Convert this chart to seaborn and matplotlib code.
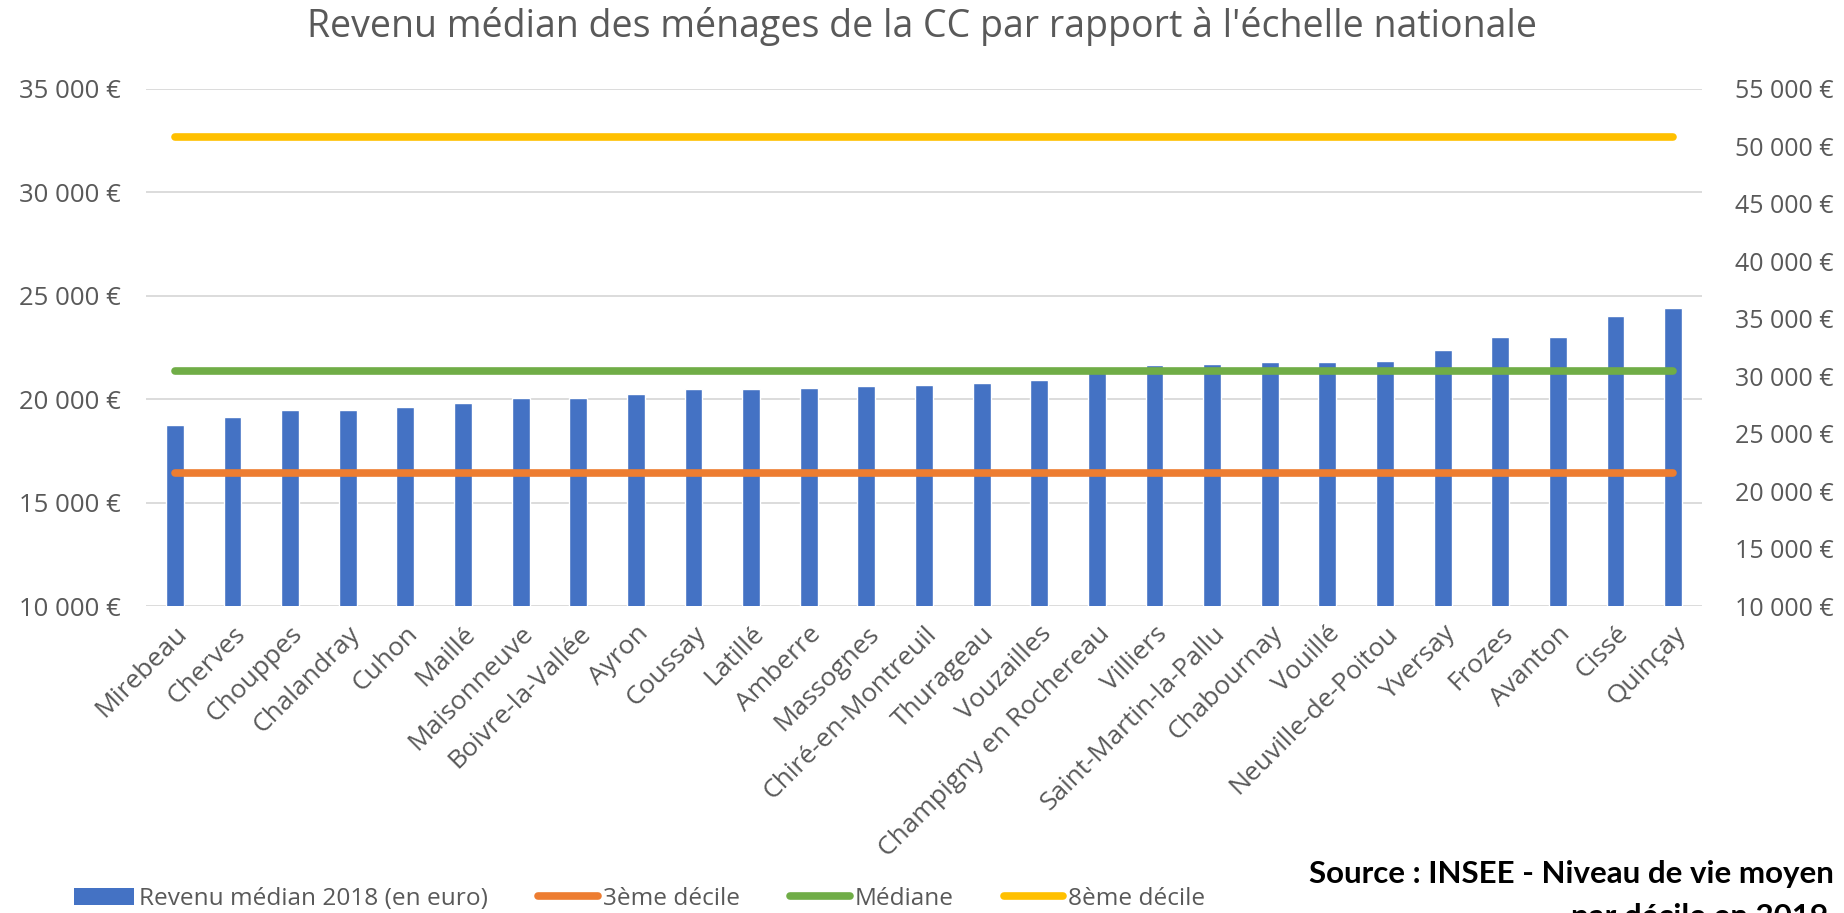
import matplotlib
matplotlib.use("Agg")
import matplotlib.pyplot as plt
from matplotlib.patches import Patch
from matplotlib.lines import Line2D
from matplotlib.ticker import FixedLocator, FuncFormatter
import numpy as np
import pandas as pd
import seaborn as sns

communes = [
    "Mirebeau", "Cherves", "Chouppes", "Chalandray", "Cuhon", "Maillé",
    "Maisonneuve", "Boivre-la-Vallée", "Ayron", "Coussay", "Latillé", "Amberre",
    "Massognes", "Chiré-en-Montreuil", "Thurageau", "Vouzailles",
    "Champigny en Rochereau", "Villiers", "Saint-Martin-la-Pallu", "Chabournay",
    "Vouillé", "Neuville-de-Poitou", "Yversay", "Frozes", "Avanton", "Cissé",
    "Quinçay",
]
revenu_median_2018 = [
    18770, 19120, 19490, 19490, 19630, 19840, 20060, 20060, 20270, 20480,
    20480, 20560, 20630, 20690, 20790, 20920, 21350, 21660, 21710, 21790,
    21790, 21850, 22370, 23020, 23020, 24030, 24390,
]
decile_3 = 16430
mediane = 21380
decile_8 = 32670

left_ticks = [10000, 15000, 20000, 25000, 30000, 35000]
right_ticks = [10000, 15000, 20000, 25000, 30000, 35000, 40000, 45000, 50000, 55000]

BLUE = "#4472C4"
ORANGE = "#ED7D31"
GREEN = "#70AD47"
YELLOW = "#FFC000"
TEXT = "#595959"
GRID = "#D9D9D9"

sns.set_theme(style="white")
plt.rcParams["font.family"] = ["Open Sans", "DejaVu Sans"]

df = pd.DataFrame({"Commune": communes, "Revenu": revenu_median_2018})

W, H = 1844, 913
fig = plt.figure(figsize=(W / 100, H / 100), dpi=100)
ax = fig.add_axes([146 / W, 1 - 606 / H, (1702 - 146) / W, (606 - 89) / H])

sns.barplot(data=df, x="Commune", y="Revenu", color=BLUE, width=0.31,
            saturation=1, ax=ax, zorder=2)

n = len(communes)
xs = np.arange(n)
for val, col in [(decile_3, ORANGE), (mediane, GREEN), (decile_8, YELLOW)]:
    ax.plot(xs, [val] * n, color=col, lw=5.5, solid_capstyle="round", zorder=3)

ax.set_xlim(-0.5, n - 0.5)
ax.set_ylim(10000, 35000)
ax.yaxis.set_major_locator(FixedLocator(left_ticks))


def euro(v, pos=None):
    return f"{int(v):,}".replace(",", " ") + " €"


ax.yaxis.set_major_formatter(FuncFormatter(euro))
ax.grid(axis="y", color=GRID, lw=1.3, zorder=0)
ax.set_axisbelow(True)
for s in ax.spines.values():
    s.set_visible(False)
ax.set_xlabel("")
ax.set_ylabel("")
ax.tick_params(axis="y", length=0, pad=18, labelsize=18.5, labelcolor=TEXT)
ax.tick_params(axis="x", length=0, pad=11, labelsize=19, labelcolor=TEXT)
for lab in ax.get_xticklabels():
    lab.set_rotation(45)
    lab.set_ha("right")
    lab.set_rotation_mode("anchor")

ax2 = ax.twinx()
ax2.set_ylim(10000, 55000)
ax2.yaxis.set_major_locator(FixedLocator(right_ticks))
ax2.yaxis.set_major_formatter(FuncFormatter(euro))
ax2.tick_params(axis="y", length=0, pad=24, labelsize=18, labelcolor=TEXT)
ax2.grid(False)
for s in ax2.spines.values():
    s.set_visible(False)

fig.text(0.5, 1 - 26 / H, "Revenu médian des ménages de la CC par rapport à l'échelle nationale",
         ha="center", va="center", fontsize=27, color=TEXT)

handles = [
    Patch(facecolor=BLUE, edgecolor="none"),
    Line2D([0], [0], color=ORANGE, lw=5.5, solid_capstyle="round"),
    Line2D([0], [0], color=GREEN, lw=5.5, solid_capstyle="round"),
    Line2D([0], [0], color=YELLOW, lw=5.5, solid_capstyle="round"),
]
labels = ["Revenu médian 2018 (en euro)", "3ème décile", "Médiane", "8ème décile"]
fig.legend(handles, labels, loc="center left", bbox_to_anchor=(74 / W, 1 - 899 / H),
           ncol=4, frameon=False, fontsize=17.6, labelcolor=TEXT, handlelength=2.45,
           handleheight=0.7, handletextpad=0.2, columnspacing=2.05, borderpad=0,
           borderaxespad=0)

src_font = dict(fontsize=22.5, fontweight="bold", color="black", family=["Lato", "DejaVu Sans"])
fig.text(1834 / W, 1 - 874 / H, "Source : INSEE - Niveau de vie moyen",
         ha="right", va="center", **src_font)
fig.text(1828 / W, 1 - 917 / H, "par décile en 2019",
         ha="right", va="center", **src_font)

fig.savefig("out.png", dpi=100)
